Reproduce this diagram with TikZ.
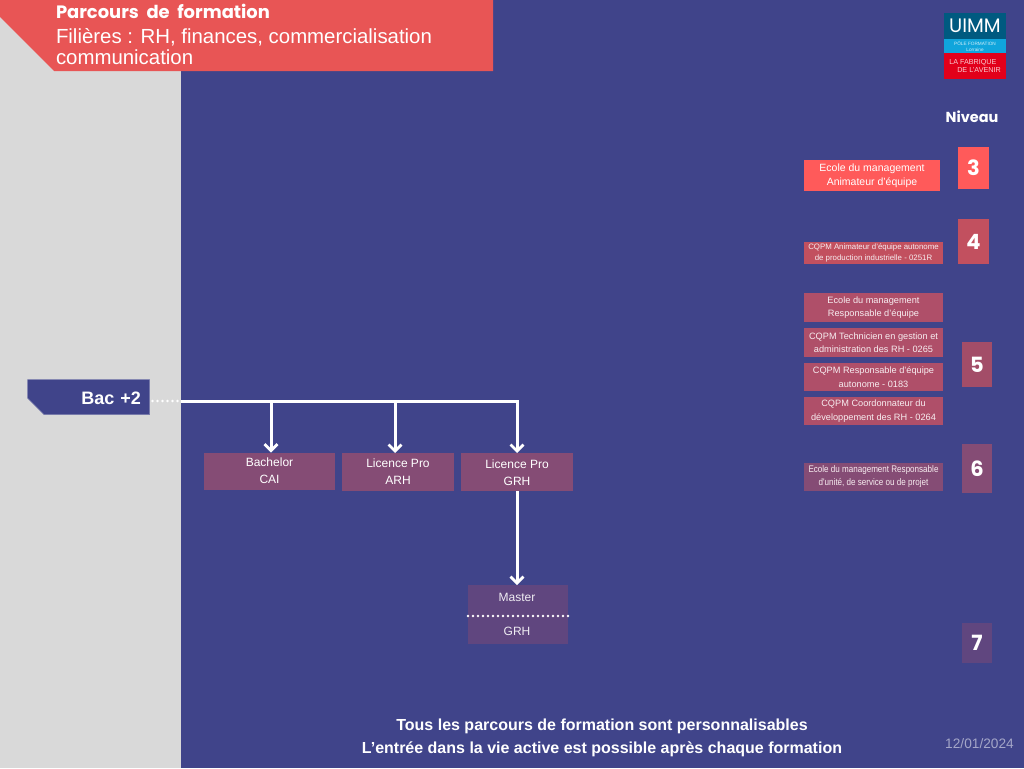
\documentclass[tikz,border=0pt]{standalone}
\usepackage{fontspec}
\setmainfont{Liberation Sans}
\newfontfamily\titlefont{Poppins}
\newfontfamily\narrowfont[FakeStretch=0.84]{Liberation Sans}
\usetikzlibrary{arrows.meta}
\usetikzlibrary{shapes.misc}
\definecolor{mblue}{HTML}{40448A}
\definecolor{mgrey}{HTML}{D9D9D9}
\definecolor{mbanner}{HTML}{E85555}
\definecolor{mthree}{HTML}{FF5A5A}
\definecolor{mfour}{HTML}{C2505F}
\definecolor{mfive}{HTML}{AF4F69}
\definecolor{mfivenum}{HTML}{A34D68}
\definecolor{msix}{HTML}{854C75}
\definecolor{mseven}{HTML}{60467F}
\definecolor{mdate}{HTML}{A4A6C8}
\definecolor{mteal}{HTML}{005A80}
\definecolor{msky}{HTML}{10A5DC}
\definecolor{mlogored}{HTML}{E2001A}
\tikzset{box/.style = {inner sep = 0, outer sep = 0, align = center, text = white}}
\tikzset{course/.style = {box, fill = msix, minimum height = 37, font = \fontsize{12}{17}\selectfont}}
\tikzset{unit/.style = {box, minimum width = 139, minimum height = 29, text = white!90!mfive, font = \fontsize{9.2}{13.5}\selectfont}}
\tikzset{level/.style = {box, minimum width = 30, font = \titlefont\bfseries\fontsize{21}{21}\selectfont}}
\tikzset{flow/.style = {white, line width = 3, -{Straight Barb[length = 6.5, width = 13, line width = 2.8]}}}
\tikzset{trunk/.style = {white, line width = 3}}
\tikzset{dots/.style = {white, line width = 2.6, line cap = round, dash pattern = on 0 off 5}}
\begin{document}
\begin{tikzpicture}[x = 1pt, y = -1pt]
  \useasboundingbox (0, 0) rectangle (1024, 768);
  \fill [mblue] (0, 0) rectangle (1024, 768);
  \fill [mgrey] (0, 0) rectangle (181, 768);
  \fill [mbanner] (0, 0) -- (493, 0) -- (493, 71) -- (54, 71) -- (0, 17) -- cycle;

  \node [box, anchor = west, font = \titlefont\bfseries\fontsize{17.9}{20}\selectfont] (title) at (56, 11) {Parcours\ \ de\ \ formation};
  \node [box, anchor = west, align = left, font = \fontsize{20.4}{21}\selectfont] (subtitle) at (56, 46.5) {Filières : RH, finances, commercialisation\\communication};

  \node [box, fill = mteal, minimum width = 62, minimum height = 26, font = \titlefont\fontsize{19.5}{20}\selectfont] (logotop) at (975, 26) {UIMM};
  \node [box, fill = msky, minimum width = 62, minimum height = 14, font = \fontsize{4.7}{6}\selectfont, text = white!80!msky] (logomid) at (975, 46) {PÔLE FORMATION\\Lorraine};
  \node [box, fill = mlogored, minimum width = 62, minimum height = 26, font = \fontsize{7.2}{7.6}\selectfont, text = white!80!mlogored, align = left] (logolow) at (975, 66) {LA FABRIQUE\\\ \ \ \ DE L'AVENIR};

  \node [box, font = \titlefont\bfseries\fontsize{14.5}{15}\selectfont] (niveau) at (972, 117) {Niveau};

  \node [level, fill = mthree, minimum width = 31, minimum height = 42] (three) at (973.5, 168) {3};
  \node [level, fill = mfour, minimum width = 31, minimum height = 45] (four) at (973.5, 241.5) {4};
  \node [level, fill = mfivenum, minimum height = 45] (five) at (977, 364.5) {5};
  \node [level, fill = msix, minimum height = 49] (six) at (977, 468.5) {6};
  \node [level, fill = mseven, minimum height = 40] (seven) at (977, 643) {7};

  \node [unit, fill = mthree, minimum width = 136, minimum height = 31, text = white, font = \fontsize{10.5}{14}\selectfont] (ecolethree) at (872, 175.5) {Ecole du management\\Animateur d'équipe};
  \node [unit, fill = mfour, minimum height = 22, font = \fontsize{7.85}{10.5}\selectfont] (cqpmfour) at (873.5, 253) {CQPM Animateur d'équipe autonome\\de production industrielle - 0251R};
  \node [unit, fill = mfive] (ecolefive) at (873.5, 307.5) {Ecole du management\\Responsable d'équipe};
  \node [unit, fill = mfive] (cqpmrh) at (873.5, 342.5) {CQPM Technicien en gestion et\\administration des RH - 0265};
  \node [unit, fill = mfive, minimum height = 28] (cqpmauto) at (873.5, 377) {CQPM Responsable d'équipe\\autonome - 0183};
  \node [unit, fill = mfive, minimum height = 28] (cqpmdev) at (873.5, 411) {CQPM Coordonnateur du\\développement des RH - 0264};
  \node [unit, fill = msix, minimum height = 28, font = \narrowfont\fontsize{9.6}{13}\selectfont] (ecolesix) at (873.5, 477) {Ecole du management Responsable\\d'unité, de service ou de projet};

  \node [box, fill = mblue, draw = mblue!70!white, line width = 0.5, chamfered rectangle, chamfered rectangle corners = south west, chamfered rectangle sep = 11, minimum width = 121, minimum height = 35, text width = 111, align = right, font = \bfseries\fontsize{18}{18}\selectfont] (bac) at (88.5, 397) {\rule[-2pt]{0pt}{11pt}\raisebox{-4pt}[0pt][0pt]{Bac +2}\hspace*{3pt}};

  \node [course, minimum width = 131] (cai) at (269.5, 471) {Bachelor\\CAI};
  \node [course, minimum width = 112, minimum height = 38] (arh) at (398, 472) {Licence Pro\\ARH};
  \node [course, minimum width = 112, minimum height = 38] (grh) at (517, 472) {\rule{0pt}{11pt}Licence Pro\\GRH};

  \node [box, fill = mseven, minimum width = 100, minimum height = 59] (master) at (518, 614.5) {};
  \node [box, font = \fontsize{12}{14}\selectfont, text = white!90!mseven] (mastertop) at (517, 597) {Master};
  \node [box, font = \fontsize{12}{14}\selectfont, text = white!90!mseven] (masterlow) at (517, 631) {GRH};

  \node [box, font = \bfseries\fontsize{16}{23}\selectfont] (foot) at (602, 738) {Tous les parcours de formation sont personnalisables\\L'entrée dans la vie active est possible après chaque formation};
  \node [box, text = mdate, font = \fontsize{13.7}{14}\selectfont] (date) at (979.5, 744) {12/01/2024};

  \coordinate (join) at (181, 401);
  \coordinate (caijoin) at (271, 401);
  \coordinate (arhjoin) at (395, 401);
  \coordinate (grhjoin) at (517, 401);

  \draw [dots] (bac.east |- join) ++(3, 0) -- (join);
  \draw [trunk] (join) -- (grhjoin);
  \draw [flow] (caijoin) -- (caijoin |- cai.north);
  \draw [flow] (arhjoin) -- (arhjoin |- arh.north);
  \draw [flow] ([xshift = -1.5]grhjoin) -| (grh.north);
  \draw [flow] (grh.south) -- (master.north -| grh.south);
  \draw [dots] ([yshift = -1.5]master.west) -- ([yshift = -1.5]master.east);
\end{tikzpicture}
\end{document}
